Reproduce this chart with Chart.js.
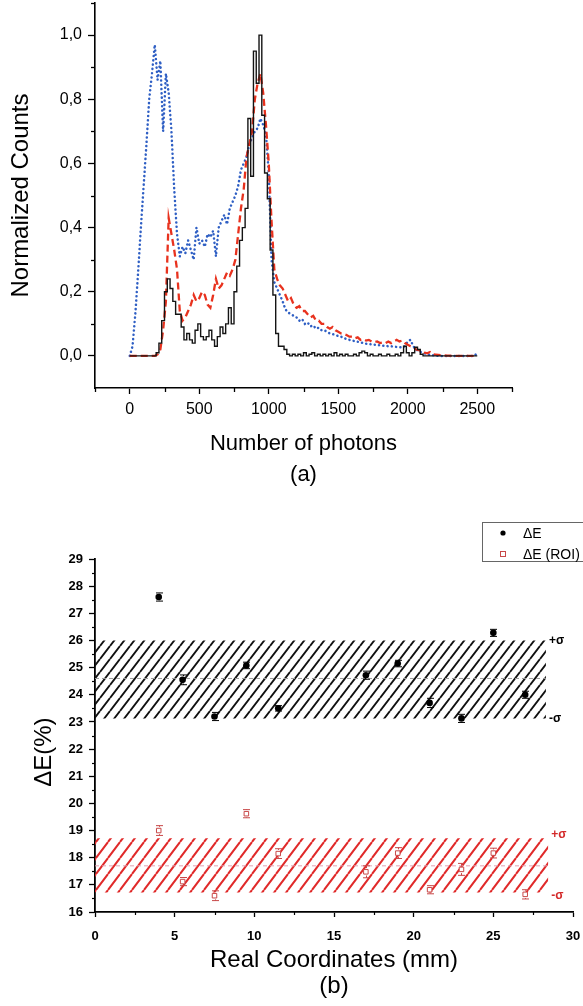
<!DOCTYPE html>
<html><head><meta charset="utf-8">
<script src="https://cdn.jsdelivr.net/npm/chart.js@4.4.1/dist/chart.umd.min.js"></script>
<style>
html,body{margin:0;padding:0;background:#fff;overflow:hidden;}
#wa{position:absolute;left:0;top:0;width:583px;height:490px;}
#wb{position:absolute;left:0;top:490px;width:583px;height:516px;}
</style></head><body>
<div id="wa"><canvas id="ca"></canvas></div>
<div id="wb"><canvas id="cb"></canvas></div>
<script>
// ---------- (a) spectra ----------
const photons = [
  0,20,40,60,80,100,120,140,160,180,
  200,220,240,260,280,300,320,340,360,380,
  400,420,440,460,480,500,520,540,560,580,
  600,620,640,660,680,700,720,740,760,780,
  800,820,840,860,880,900,920,940,960,980,
  1000,1020,1040,1060,1080,1100,1120,1140,1160,1180,
  1200,1220,1240,1260,1280,1300,1320,1340,1360,1380,
  1400,1420,1440,1460,1480,1500,1520,1540,1560,1580,
  1600,1620,1640,1660,1680,1700,1720,1740,1760,1780,
  1800,1820,1840,1860,1880,1900,1920,1940,1960,1980,
  2000,2020,2040,2060,2080,2100,2120,2140,2160,2180,
  2200,2220,2240,2260,2280,2300,2320,2340,2360,2380,
  2400,2420,2440,2460,2480,2500];
const countsBlue = [
  0,0.03,0.13,0.26,0.40,0.53,0.66,0.80,0.88,0.97,
  0.86,0.92,0.70,0.88,0.82,0.70,0.52,0.38,0.31,0.34,
  0.32,0.36,0.33,0.30,0.40,0.35,0.36,0.34,0.38,0.37,
  0.39,0.31,0.40,0.42,0.44,0.41,0.46,0.48,0.50,0.53,
  0.58,0.60,0.62,0.66,0.68,0.70,0.71,0.74,0.72,0.69,
  0.57,0.30,0.23,0.21,0.19,0.17,0.145,0.135,0.13,0.125,
  0.12,0.11,0.115,0.10,0.104,0.092,0.095,0.085,0.088,0.08,
  0.08,0.075,0.07,0.068,0.065,0.062,0.06,0.056,0.052,0.05,
  0.048,0.046,0.044,0.042,0.04,0.038,0.037,0.036,0.035,0.034,
  0.033,0.032,0.032,0.03,0.03,0.029,0.028,0.027,0.027,0.03,
  0.045,0.05,0.03,0.02,0.015,0.011,0.008,0.005,0.003,0.002,
  0.001,0,0,0,0,0,0,0,0,0,
  0,0,0,0,0,0.01];
const countsRed = [
  0,0,0,0,0,0,0,0,0,0,
  0.005,0.02,0.08,0.17,0.43,0.38,0.33,0.27,0.14,0.11,
  0.12,0.14,0.16,0.19,0.17,0.18,0.20,0.19,0.16,0.15,
  0.19,0.24,0.21,0.22,0.24,0.26,0.25,0.27,0.30,0.38,
  0.46,0.52,0.62,0.66,0.70,0.80,0.85,0.88,0.82,0.72,
  0.60,0.42,0.27,0.24,0.22,0.21,0.19,0.17,0.18,0.16,
  0.15,0.155,0.14,0.14,0.13,0.12,0.125,0.11,0.11,0.10,
  0.10,0.09,0.085,0.09,0.08,0.075,0.07,0.068,0.065,0.06,
  0.06,0.055,0.058,0.05,0.052,0.048,0.05,0.045,0.043,0.045,
  0.04,0.042,0.04,0.045,0.04,0.045,0.05,0.045,0.048,0.04,
  0.035,0.03,0.028,0.02,0.018,0.015,0.01,0.008,0.012,0.005,
  0.004,0.003,0.002,0.002,0.001,0.001,0,0,0,0,
  0,0,0,0,0,0];
const countsBlack = [
  0,0,0,0,0,0,0,0,0,0,
  0.01,0.04,0.11,0.20,0.24,0.21,0.17,0.13,0.13,0.09,
  0.05,0.07,0.05,0.04,0.08,0.10,0.06,0.05,0.06,0.08,
  0.05,0.03,0.06,0.09,0.07,0.10,0.15,0.10,0.20,0.28,
  0.36,0.40,0.46,0.74,0.56,0.95,0.85,1.00,0.75,0.57,
  0.49,0.33,0.19,0.07,0.03,0.03,0.02,0.005,0,0.005,
  0,0.005,0,0.01,0,0.005,0.01,0,0.005,0,
  0.005,0,0.005,0,0.01,0,0.005,0,0.005,0,
  0,0.005,0,0.01,0.015,0.01,0,0.005,0,0,
  0.005,0,0,0.005,0,0,0.005,0,0.01,0.03,
  0.01,0,0.01,0.027,0.02,0.005,0,0,0,0,
  0,0,0,0,0,0,0,0,0,0,
  0,0,0,0,0,0];
const xTicksA = [0,500,1000,1500,2000,2500];
const xMinorA = [-250,250,750,1250,1750,2250,2750];
const yTicksA = [0,0.2,0.4,0.6,0.8,1.0];
const yMinorA = [0.1,0.3,0.5,0.7,0.9,1.1];

// ---------- (b) energy resolution ----------
const coords = [4,5.5,7.5,9.5,11.5,17,19,21,23,25,27];
const dE = [27.6,24.55,23.2,25.08,23.5,24.72,25.15,23.7,23.13,26.28,24.0];
const dEErr = [0.15,0.18,0.15,0.12,0.1,0.15,0.12,0.17,0.15,0.13,0.13];
const dERoi = [19.0,17.12,16.6,19.62,18.15,17.48,18.17,16.82,17.57,18.17,16.65];
const dERoiErr = [0.18,0.15,0.18,0.15,0.18,0.22,0.2,0.15,0.22,0.18,0.17];
const bandBlackX = [0,28.3];
const bandBlack = [26.0,24.6,23.13];   // +sigma, mean, -sigma
const bandRedX = [0,28.45];
const bandRed = [18.72,17.7,16.72];
const xTicksB = [0,5,10,15,20,25,30];
const xMinorB = [2.5,7.5,12.5,17.5,22.5,27.5];
const yTicksB = [16,17,18,19,20,21,22,23,24,25,26,27,28,29];
const yMinorB = [16.5,17.5,18.5,19.5,20.5,21.5,22.5,23.5,24.5,25.5,26.5,27.5,28.5];
const legendLabels = ['\u0394E','\u0394E (ROI)'];

Chart.defaults.font.family = "'Liberation Sans', Arial, sans-serif";
Chart.defaults.color = '#000';

const minorTicks = {
  id:'minorTicks',
  afterDraw(chart, args, o){
    const ctx = chart.ctx, xs = chart.scales.x, ys = chart.scales.y;
    ctx.save(); ctx.strokeStyle = '#000'; ctx.lineWidth = o.width;
    o.x.forEach(v=>{const p=Math.round(xs.getPixelForValue(v))+0.5; ctx.beginPath(); ctx.moveTo(p, ys.bottom); ctx.lineTo(p, ys.bottom+o.len); ctx.stroke();});
    o.y.forEach(v=>{const p=Math.round(ys.getPixelForValue(v))+0.5; ctx.beginPath(); ctx.moveTo(xs.left, p); ctx.lineTo(xs.left-o.len, p); ctx.stroke();});
    ctx.restore();
  }
};

function pts(ys){ return photons.map((x,i)=>({x:x, y:ys[i]})); }

new Chart(document.getElementById('ca'), {
  type:'line',
  data:{datasets:[
    {data:pts(countsBlack), borderColor:'#141414', borderWidth:1.4, stepped:'middle', pointRadius:0, fill:false},
    {data:pts(countsRed), borderColor:'#e8321e', borderWidth:2.3, borderDash:[7,4], pointRadius:0, fill:false},
    {data:pts(countsBlue), borderColor:'#2f5fc4', borderWidth:2.5, borderDash:[0.1,4.2], borderCapStyle:'round', pointRadius:0, fill:false}
  ]},
  options:{
    responsive:true, maintainAspectRatio:false, animation:false, events:[],
    layout:{padding:{top:3,right:71,left:0,bottom:0}},
    plugins:{legend:{display:false}, tooltip:{enabled:false},
      minorTicks:{x:xMinorA, y:yMinorA, len:4, width:1.3}},
    scales:{
      x:{type:'linear', min:-250, max:2750,
        afterBuildTicks:s=>{s.ticks = xTicksA.map(v=>({value:v}));},
        afterFit:s=>{s.height=102; s.paddingLeft=0; s.paddingRight=0;},
        ticks:{font:{size:16}, color:'#000', padding:6, autoSkip:false, maxRotation:0, callback:v=>String(v)},
        grid:{display:true, drawOnChartArea:false, drawTicks:true, tickLength:6, tickColor:'#000', tickWidth:1.3},
        border:{display:true, color:'#000', width:1.6},
        title:{display:true, text:['Number of photons','(a)'], font:{size:22, lineHeight:1.4}, color:'#000', padding:{top:0,bottom:0}}
      },
      y:{type:'linear', min:-0.1, max:1.1,
        afterBuildTicks:s=>{s.ticks = yTicksA.map(v=>({value:v}));},
        afterFit:s=>{s.width=95; s.paddingTop=0; s.paddingBottom=0;},
        ticks:{font:{size:16}, color:'#000', padding:6, autoSkip:false, callback:v=>v.toFixed(1).replace('.',',')},
        grid:{display:true, drawOnChartArea:false, drawTicks:true, tickLength:7, tickColor:'#000', tickWidth:1.3},
        border:{display:true, color:'#000', width:1.6},
        title:{display:true, text:'Normalized Counts', font:{size:24, lineHeight:1.2}, color:'#000', padding:{top:7,bottom:0}}
      }
    }
  },
  plugins:[minorTicks]
});

function hatch(color, w, h, lw){
  const c = document.createElement('canvas'); c.width = w; c.height = h;
  const g = c.getContext('2d'); g.strokeStyle = color; g.lineWidth = lw;
  g.beginPath();
  g.moveTo(0,h); g.lineTo(w,0);
  g.moveTo(-w,h); g.lineTo(0,0);
  g.moveTo(w,h); g.lineTo(2*w,0);
  g.stroke();
  return g.createPattern(c,'repeat');
}

const errorBars = {
  id:'errorBars',
  afterDatasetsDraw(chart){
    const ctx = chart.ctx, x = chart.scales.x, y = chart.scales.y;
    chart.data.datasets.forEach(ds=>{
      if(!ds.errors) return;
      ctx.save(); ctx.strokeStyle = ds.errColor; ctx.lineWidth = 1;
      ds.data.forEach((p,i)=>{
        const px = Math.round(x.getPixelForValue(p.x))+0.5, py = y.getPixelForValue(p.y);
        const top = y.getPixelForValue(p.y+ds.errors[i]), bot = y.getPixelForValue(p.y-ds.errors[i]);
        const r = ds.pointRadius+0.5;
        ctx.beginPath();
        if(top < py-r){ctx.moveTo(px,py-r); ctx.lineTo(px,top);}
        if(bot > py+r){ctx.moveTo(px,py+r); ctx.lineTo(px,bot);}
        ctx.moveTo(px-3.5,top); ctx.lineTo(px+3.5,top);
        ctx.moveTo(px-3.5,bot); ctx.lineTo(px+3.5,bot);
        ctx.stroke();
      });
      ctx.restore();
    });
  }
};

const sigmaLabels = {
  id:'sigmaLabels',
  afterDraw(chart){
    const ctx = chart.ctx, x = chart.scales.x, y = chart.scales.y;
    ctx.save();
    ctx.font = "bold 12px 'Liberation Sans', Arial, sans-serif";
    ctx.textBaseline = 'middle'; ctx.textAlign = 'left';
    const xb = x.getPixelForValue(bandBlackX[1]) + 3;
    ctx.fillStyle = '#000';
    ctx.fillText('+\u03c3', xb, y.getPixelForValue(bandBlack[0]));
    ctx.fillText('-\u03c3', xb, y.getPixelForValue(bandBlack[2]));
    const xr = x.getPixelForValue(bandRedX[1]) + 3;
    ctx.fillStyle = '#d42a2a';
    ctx.fillText('+\u03c3', xr, y.getPixelForValue(bandRed[0]) - 3);
    ctx.fillText('-\u03c3', xr, y.getPixelForValue(bandRed[2]) + 3);
    // legend box
    ctx.strokeStyle = '#666'; ctx.lineWidth = 1;
    ctx.strokeRect(482.5, 32.5, 110, 39);
    ctx.fillStyle = '#000';
    ctx.beginPath(); ctx.arc(503, 43, 2.6, 0, Math.PI*2); ctx.fill();
    ctx.strokeStyle = '#c84848';
    ctx.strokeRect(500.5, 61.5, 5, 5);
    ctx.font = "14px 'Liberation Sans', Arial, sans-serif";
    ctx.fillStyle = '#000';
    ctx.fillText(legendLabels[0], 523, 44);
    ctx.fillText(legendLabels[1], 523, 65);
    ctx.restore();
  }
};

function flat(xs, v){ return xs.map(x=>({x:x, y:v})); }

new Chart(document.getElementById('cb'), {
  type:'line',
  data:{datasets:[
    {label:legendLabels[0], data:coords.map((c,i)=>({x:c,y:dE[i]})), showLine:false, pointStyle:'circle', pointRadius:3.3, pointBackgroundColor:'#000', pointBorderColor:'#000', pointBorderWidth:0, errors:dEErr, errColor:'#000'},
    {label:legendLabels[1], data:coords.map((c,i)=>({x:c,y:dERoi[i]})), showLine:false, pointStyle:'rect', pointRadius:3.2, pointBackgroundColor:'#fff', pointBorderColor:'#c84848', pointBorderWidth:1, errors:dERoiErr, errColor:'#c84848'},
    {data:flat(bandBlackX, bandBlack[1]), borderColor:'#9a9a9a', borderWidth:1, borderDash:[4,3], pointRadius:0, fill:false},
    {data:flat(bandBlackX, bandBlack[0]), borderWidth:0, borderColor:'rgba(0,0,0,0)', pointRadius:0, fill:'+1', backgroundColor:hatch('#111',10,13,1.9)},
    {data:flat(bandBlackX, bandBlack[2]), borderWidth:0, borderColor:'rgba(0,0,0,0)', pointRadius:0, fill:false},
    {data:flat(bandRedX, bandRed[1]), borderColor:'#e0a0b0', borderWidth:1, borderDash:[4,3], pointRadius:0, fill:false},
    {data:flat(bandRedX, bandRed[0]), borderWidth:0, borderColor:'rgba(0,0,0,0)', pointRadius:0, fill:'+1', backgroundColor:hatch('#e02a2a',12,16,2)},
    {data:flat(bandRedX, bandRed[2]), borderWidth:0, borderColor:'rgba(0,0,0,0)', pointRadius:0, fill:false}
  ]},
  options:{
    responsive:true, maintainAspectRatio:false, animation:false, events:[],
    layout:{padding:{top:69,right:10,left:0,bottom:0}},
    plugins:{legend:{display:false}, tooltip:{enabled:false},
      minorTicks:{x:xMinorB, y:yMinorB, len:3, width:1.2}},
    scales:{
      x:{type:'linear', min:0, max:30,
        afterBuildTicks:s=>{s.ticks = xTicksB.map(v=>({value:v}));},
        afterFit:s=>{s.height=94; s.paddingLeft=0; s.paddingRight=0;},
        ticks:{font:{size:13, weight:'bold'}, color:'#000', padding:12, autoSkip:false, maxRotation:0},
        grid:{display:true, drawOnChartArea:false, drawTicks:true, tickLength:5, tickColor:'#000', tickWidth:1.3},
        border:{display:true, color:'#000', width:1.8},
        title:{display:true, text:['Real Coordinates (mm)','(b)'], font:{size:24, lineHeight:1.1}, color:'#000', padding:{top:0,bottom:6}}
      },
      y:{type:'linear', min:16, max:29,
        afterBuildTicks:s=>{s.ticks = yTicksB.map(v=>({value:v}));},
        afterFit:s=>{s.width=95; s.paddingTop=0; s.paddingBottom=0;},
        ticks:{font:{size:13, weight:'bold'}, color:'#000', padding:6, autoSkip:false},
        grid:{display:true, drawOnChartArea:false, drawTicks:true, tickLength:6, tickColor:'#000', tickWidth:1.3},
        border:{display:true, color:'#000', width:1.8},
        title:{display:true, text:'\u0394E(%)     ', font:{size:24, lineHeight:1.2}, color:'#000', padding:{top:30,bottom:0}}
      }
    }
  },
  plugins:[minorTicks, errorBars, sigmaLabels]
});
</script>
</body></html>
